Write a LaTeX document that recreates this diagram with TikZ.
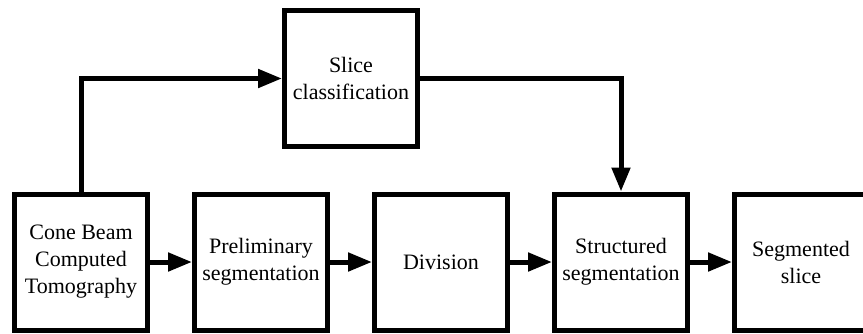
\documentclass[tikz,border=0pt]{standalone}
\usepackage{fontspec}
\setmainfont{Liberation Serif}
\usetikzlibrary{arrows.meta}
\begin{document}
\begin{tikzpicture}[x=1pt,y=-1pt,
  box/.style={draw, line width=5pt, minimum width=133pt, minimum height=136pt,
    align=center, inner sep=0pt, font=\fontsize{22}{27}\selectfont},
  conn/.style={line width=5pt, -{Triangle[length=24pt,width=18pt]}}]
\clip (0,0) rectangle (863,333);
\node[box] (cbct) at (81,262) {Cone Beam\\Computed\\Tomography};
\node[box] (pre) at (261,262) {Preliminary\\segmentation};
\node[box] (div) at (441,262) {Division};
\node[box] (struct) at (621,262) {Structured\\segmentation};
\node[box] (seg) at (801,262) {Segmented\\slice};
\node[box] (slice) at (351,78.5) {Slice\\classification};
\draw[conn] (cbct) -- (pre);
\draw[conn] (pre) -- (div);
\draw[conn] (div) -- (struct);
\draw[conn] (struct) -- (seg);
\draw[conn] (cbct.north) |- (slice.west);
\draw[conn] (slice.east) -| (struct.north);
\end{tikzpicture}
\end{document}
